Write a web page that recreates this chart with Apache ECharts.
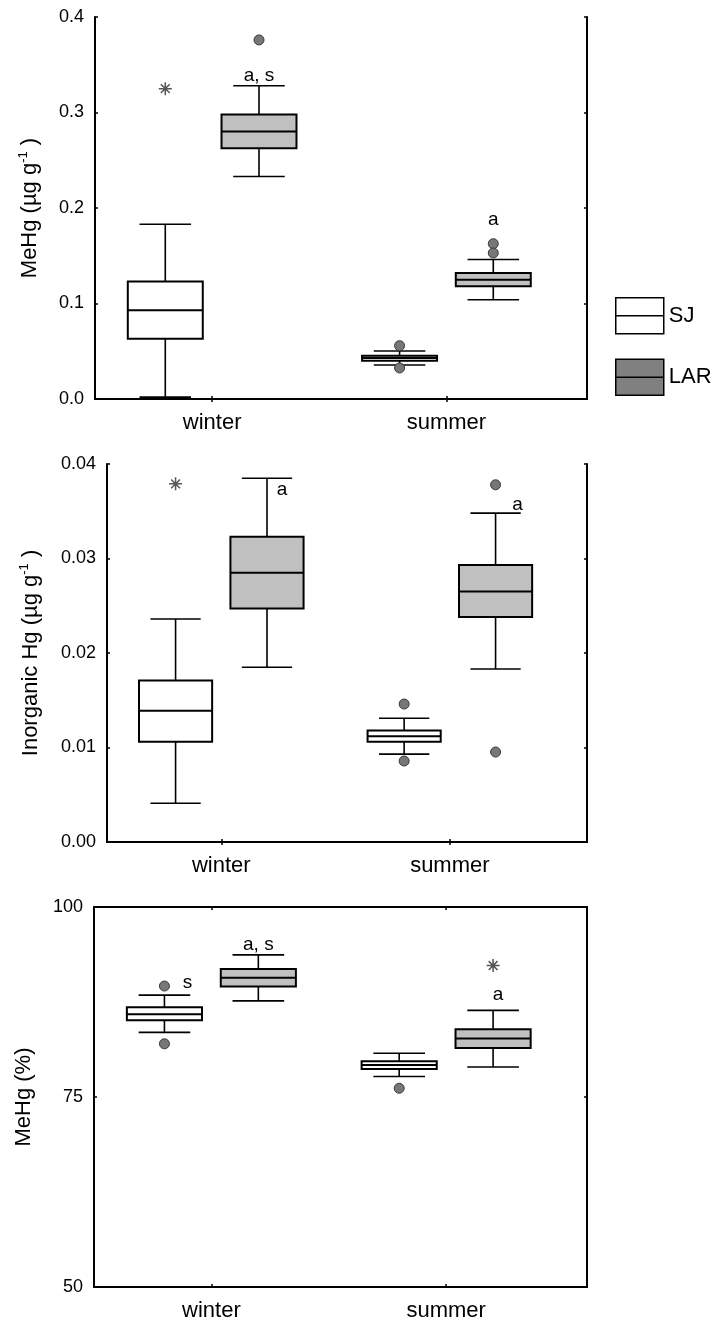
<!DOCTYPE html>
<html><head><meta charset="utf-8">
<script src="https://cdn.jsdelivr.net/npm/echarts@6/dist/echarts.min.js"></script>
<style>html,body{margin:0;padding:0;background:#fff}#c{width:715px;height:1324px}</style>
</head><body><div id="c"></div><script>
// ---------------- DATA ----------------
const categories = ['winter', 'summer'];
const sites = ['SJ', 'LAR'];

// Box statistics per season: [min, q1, median, q3, max]
const mehgSJ  = [[0.002, 0.063, 0.093, 0.123, 0.183], [0.0356, 0.0401, 0.0429, 0.0453, 0.0503]];
const mehgLAR = [[0.233, 0.2625, 0.280, 0.298, 0.328], [0.104, 0.118, 0.125, 0.132, 0.146]];
// [siteIdx, seasonIdx, value]
const mehgOutliers = [[1, 0, 0.376], [0, 1, 0.0558], [0, 1, 0.0325], [1, 1, 0.1626], [1, 1, 0.1529]];
const mehgExtremes = [[0, 0, 0.325]];
// [siteIdx, seasonIdx, value, text]
const mehgNotes = [[1, 0, 0.3385, 'a, s'], [1, 1, 0.1874, 'a']];
const mehgTicks = ['0.0', '0.1', '0.2', '0.3', '0.4'];

const inorgSJ  = [[0.0041, 0.0106, 0.0139, 0.0171, 0.0236], [0.0093, 0.0106, 0.0112, 0.0118, 0.0131]];
const inorgLAR = [[0.0185, 0.0247, 0.0285, 0.0323, 0.0385], [0.0183, 0.0238, 0.0265, 0.0293, 0.0348]];
const inorgOutliers = [[0, 1, 0.0146], [0, 1, 0.00857], [1, 1, 0.0378], [1, 1, 0.00952]];
const inorgExtremes = [[0, 0, 0.0379]];
const inorgNotes = [[1, 0, 0.0373, 'a'], [1, 1, 0.0357, 'a']];
const inorgTicks = ['0.00', '0.01', '0.02', '0.03', '0.04'];

const pctSJ  = [[83.5, 85.1, 85.9, 86.8, 88.4], [77.7, 78.7, 79.2, 79.7, 80.75]];
const pctLAR = [[87.65, 89.55, 90.7, 91.85, 93.7], [78.95, 81.45, 82.7, 83.9, 86.4]];
const pctOutliers = [[0, 0, 89.6], [0, 0, 82.0], [0, 1, 76.15]];
const pctExtremes = [[1, 1, 92.3]];
const pctNotes = [[0, 0, 90.0, 's'], [1, 0, 95.0, 'a, s'], [1, 1, 88.45, 'a']];
const pctTicks = ['50', '75', '100'];

// ---------------- LAYOUT / STYLE ----------------
const FONT = '"Liberation Sans", Arial, Helvetica, sans-serif';
const BOX_W = 0.32, CAP_W = 0.22, SITE_OFFSET = 0.2;
const siteFill = ['#ffffff', '#c0c0c0'];

const panels = [
  { sj: mehgSJ, lar: mehgLAR, out: mehgOutliers, ext: mehgExtremes, notes: mehgNotes, ticks: mehgTicks,
    min: 0, max: 0.4, interval: 0.1, name: '{a|MeHg (µg g}{s|-1}{a| )}',
    grid: { left: 95, top: 17, width: 492, height: 382 }, nameGap: 52, noteDx: [0, 0] },
  { sj: inorgSJ, lar: inorgLAR, out: inorgOutliers, ext: inorgExtremes, notes: inorgNotes, ticks: inorgTicks,
    min: 0, max: 0.04, interval: 0.01, name: '{a|Inorganic Hg (µg g}{s|-1}{a| )}',
    grid: { left: 107, top: 464, width: 480, height: 378 }, nameGap: 63, noteDx: [15, 22] },
  { sj: pctSJ, lar: pctLAR, out: pctOutliers, ext: pctExtremes, notes: pctNotes, ticks: pctTicks,
    min: 50, max: 100, interval: 25, name: '{a|MeHg (%)}',
    grid: { left: 94, top: 907, width: 493, height: 380 }, nameGap: 57, noteDx: [23, 0, 5] }
];

function xPos(siteIdx, seasonIdx) {
  return seasonIdx + 1 + (siteIdx === 0 ? -SITE_OFFSET : SITE_OFFSET);
}

function renderBox(params, api) {
  const x = api.value(0);
  const pMin = api.coord([x, api.value(1)]);
  const pQ1 = api.coord([x, api.value(2)]);
  const pMed = api.coord([x, api.value(3)]);
  const pQ3 = api.coord([x, api.value(4)]);
  const pMax = api.coord([x, api.value(5)]);
  const hb = api.size([BOX_W, 0])[0] / 2;
  const hc = api.size([CAP_W, 0])[0] / 2;
  const cx = pMed[0];
  const ls = { stroke: '#000', lineWidth: 1.6 };
  return {
    type: 'group',
    children: [
      { type: 'line', shape: { x1: cx, y1: pMax[1], x2: cx, y2: pQ3[1] }, style: ls },
      { type: 'line', shape: { x1: cx, y1: pQ1[1], x2: cx, y2: pMin[1] }, style: ls },
      { type: 'line', shape: { x1: cx - hc, y1: pMax[1], x2: cx + hc, y2: pMax[1] }, style: ls },
      { type: 'line', shape: { x1: cx - hc, y1: pMin[1], x2: cx + hc, y2: pMin[1] }, style: ls },
      { type: 'rect', shape: { x: cx - hb, y: pQ3[1], width: hb * 2, height: pQ1[1] - pQ3[1] },
        style: { fill: api.visual('color'), stroke: '#000', lineWidth: 2 } },
      { type: 'line', shape: { x1: cx - hb, y1: pMed[1], x2: cx + hb, y2: pMed[1] }, style: { stroke: '#000', lineWidth: 2 } }
    ]
  };
}

const grid = [], xAxis = [], yAxis = [], series = [];
panels.forEach((p, i) => {
  grid.push(Object.assign({ containLabel: false }, p.grid));
  const axLine = { show: true, lineStyle: { color: '#000', width: 2 } };
  const xBase = { gridIndex: i, type: 'value', min: 0.5, max: 2.6, splitLine: { show: false }, axisLine: axLine };
  xAxis.push(Object.assign({}, xBase, {
    position: 'bottom',
    axisTick: { show: true, inside: true, length: 3, customValues: [1, 2], lineStyle: { color: '#000', width: 1.5 } },
    axisLabel: { show: true, customValues: [1, 2], margin: 13, fontSize: 22, color: '#000', fontFamily: FONT,
      formatter: v => categories[Math.round(v) - 1] || '' }
  }));
  xAxis.push(Object.assign({}, xBase, {
    position: 'top',
    axisTick: { show: true, inside: true, length: 3, customValues: [1, 2], lineStyle: { color: '#000', width: 1.5 } },
    axisLabel: { show: false }
  }));
  const yBase = { gridIndex: i, type: 'value', min: p.min, max: p.max, interval: p.interval,
    splitLine: { show: false }, axisLine: axLine,
    axisTick: { show: true, inside: true, length: 3, lineStyle: { color: '#000', width: 1.5 } } };
  yAxis.push(Object.assign({}, yBase, {
    position: 'left',
    axisLabel: { show: true, margin: 11, fontSize: 18, color: '#000', fontFamily: FONT,
      formatter: v => p.ticks[Math.round((v - p.min) / p.interval)] },
    name: p.name, nameLocation: 'middle', nameGap: p.nameGap,
    nameTextStyle: { fontSize: 22, color: '#000', fontFamily: FONT,
      rich: { a: { fontSize: 22, lineHeight: 26, color: '#000', fontFamily: FONT },
              s: { fontSize: 13, lineHeight: 13, verticalAlign: 'top', color: '#000', fontFamily: FONT } } }
  }));
  yAxis.push(Object.assign({}, yBase, { position: 'right', axisLabel: { show: false } }));

  [p.sj, p.lar].forEach((stats, siteIdx) => {
    series.push({
      type: 'custom', name: sites[siteIdx], xAxisIndex: 2 * i, yAxisIndex: 2 * i,
      renderItem: renderBox, z: 2,
      itemStyle: { color: siteFill[siteIdx] },
      encode: { x: 0, y: [1, 2, 3, 4, 5] },
      data: stats.map((s, seasonIdx) => [xPos(siteIdx, seasonIdx)].concat(s))
    });
  });
  series.push({
    type: 'scatter', name: 'outliers', xAxisIndex: 2 * i, yAxisIndex: 2 * i, z: 5,
    symbol: 'circle', symbolSize: 10,
    itemStyle: { color: '#777777', borderColor: '#3a3a3a', borderWidth: 1, opacity: 1 },
    data: p.out.map(o => [xPos(o[0], o[1]), o[2]])
  });
  series.push({
    type: 'scatter', name: 'extremes', xAxisIndex: 2 * i, yAxisIndex: 2 * i, z: 5,
    symbol: 'path://M5,0L5,10M0,5L10,5M1.6,1.6L8.4,8.4M8.4,1.6L1.6,8.4', symbolSize: 13,
    itemStyle: { color: 'transparent', borderColor: '#555', borderWidth: 1.5, opacity: 1 },
    data: p.ext.map(o => [xPos(o[0], o[1]), o[2]])
  });
  series.push({
    type: 'custom', name: 'notes', xAxisIndex: 2 * i, yAxisIndex: 2 * i, z: 6,
    encode: { x: 0, y: 1 },
    data: p.notes.map(n => [xPos(n[0], n[1]), n[2], n[3]]),
    renderItem: (params, api) => {
      const pt = api.coord([api.value(0), api.value(1)]);
      const n = p.notes[params.dataIndex];
      return { type: 'text', x: pt[0] + (p.noteDx[params.dataIndex] || 0), y: pt[1],
        style: { text: n[3], fill: '#000', fontSize: 19, fontFamily: FONT, align: 'center', verticalAlign: 'middle' } };
    }
  });
});

const chart = echarts.init(document.getElementById('c'), null, { renderer: 'canvas' });
chart.setOption({
  backgroundColor: '#ffffff',
  animation: false,
  grid, xAxis, yAxis, series,
  legend: {
    orient: 'vertical', left: 610, top: 292, itemWidth: 48, itemHeight: 36, itemGap: 24,
    selectedMode: false,
    textStyle: { fontSize: 22, color: '#000', fontFamily: FONT },
    data: [
      { name: 'SJ', icon: 'path://M0,0L48,0L48,36L0,36ZM0,18L48,18',
        itemStyle: { color: '#ffffff', borderColor: '#000', borderWidth: 1.5 } },
      { name: 'LAR', icon: 'path://M0,0L48,0L48,36L0,36ZM0,18L48,18',
        itemStyle: { color: '#808080', borderColor: '#000', borderWidth: 1.5 } }
    ]
  }
});
</script></body></html>
